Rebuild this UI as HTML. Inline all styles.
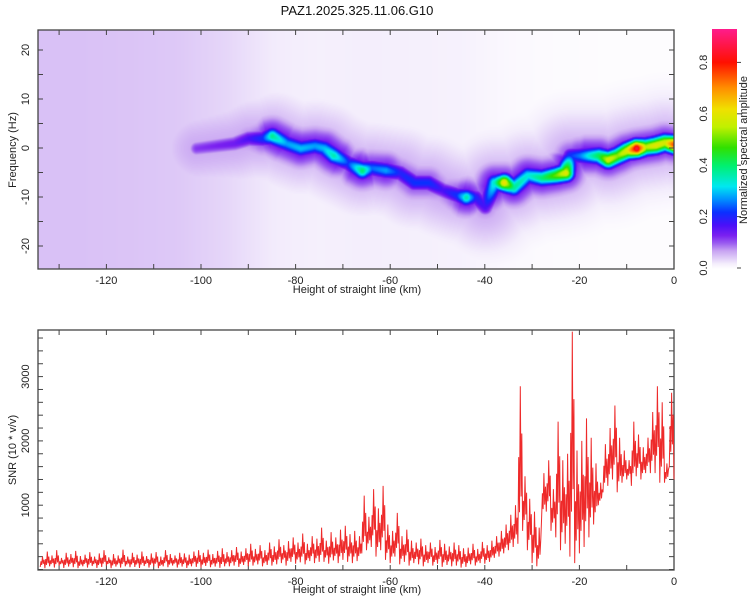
<!DOCTYPE html>
<html><head><meta charset="utf-8"><style>
html,body{margin:0;padding:0;background:#fff;}
#wrap{position:relative;width:750px;height:600px;overflow:hidden;font-family:"Liberation Sans",sans-serif;}
#heat{position:absolute;left:38px;top:30px;}
#ov{position:absolute;left:0;top:0;}
</style></head><body>
<div id="wrap">
<canvas id="heat" width="636" height="239"></canvas>
<svg id="ov" width="750" height="600" xmlns="http://www.w3.org/2000/svg">
<defs><linearGradient id="cbg" x1="0" y1="1" x2="0" y2="0"></linearGradient></defs>
<text x="357" y="15" text-anchor="middle" font-size="13" fill="#111">PAZ1.2025.325.11.06.G10</text>
<g id="topAxes"></g>
<g id="botAxes"></g>
<path id="snrLine" fill="none" stroke="#ee2a2a" stroke-width="1"></path>
<rect x="712" y="29" width="25" height="240" fill="url(#cbg)"></rect>
<g id="cbTicks"></g>
<text transform="translate(747,150) rotate(-90)" text-anchor="middle" font-size="11" fill="#222">Normalized spectral amplitude</text>
<text transform="translate(16,150) rotate(-90)" text-anchor="middle" font-size="11" fill="#222">Frequency (Hz)</text>
<text transform="translate(16,450) rotate(-90)" text-anchor="middle" font-size="11" fill="#222">SNR (10 * v/v)</text>
<text x="357" y="293" text-anchor="middle" font-size="11" fill="#222">Height of straight line (km)</text>
<text x="357" y="593" text-anchor="middle" font-size="11" fill="#222">Height of straight line (km)</text>
</svg>
</div>
<script>
// ---- data ----
const ridgeKm  = [-101,-97,-93,-90,-87,-85,-82,-79,-76,-74,-72,-69,-66,-64,-61,-58,-55,-52,-49,-46,-44,-42,-40,-38,-36,-34,-31,-28,-25,-23,-22,-20,-18,-16,-14,-12,-10,-8,-6,-4,-2,0];
const ridgeHz  = [0,0.5,1,2,2,2.5,1,0,0.5,0,-1.5,-3,-4.5,-4,-4.5,-5,-7,-7,-8.5,-9.5,-10,-10,-12,-7,-7,-8,-5.5,-6,-5.5,-5,-1.5,-1.5,-1.5,-1.5,-2.3,-1.5,-0.5,0,0.3,0.6,1.2,0.8];
const ridgeAmp = [0.12,0.13,0.14,0.17,0.22,0.38,0.28,0.3,0.28,0.3,0.36,0.22,0.4,0.25,0.28,0.2,0.22,0.22,0.17,0.22,0.36,0.2,0.17,0.35,0.62,0.38,0.33,0.4,0.5,0.6,0.22,0.26,0.34,0.42,0.58,0.52,0.6,0.86,0.55,0.6,0.58,0.78];
const bgKm     = [-135,-125,-115,-105,-95,-85,-75,-65,-55,-45,-35,-25,-15,-5,0];
const bgLevel  = [0.05,0.05,0.048,0.045,0.036,0.022,0.018,0.02,0.018,0.016,0.008,0.005,0.004,0.004,0.004];
const snrKmStart = -134;
const snrHigh = [200,280,220,300,180,260,240,290,210,230, 270,200,250,300,190,240,220,310,200,260, 230,280,210,250,270,200,300,240,220,260, 250,230,280,300,260,310,240,290,330,270,
 300,350,280,330,400,320,380,300,420,360, 470,380,440,500,420,560,400,520,480,650, 450,580,500,620,680,550,600,520,1150,820,
 1250,950,1300,700,600,880,520,620,450,420, 480,380,420,350,460,400,360,420,380,330, 340,400,320,430,380,450,520,600,700,850,
 1000,2850,1450,1100,900,650,1500,1700,1250,2300, 1700,1800,3700,1850,2000,2350,2050,1650,1350,1950, 2200,2550,2050,1850,1700,2300,2100,1900,2050,2450, 2850,2600,1650,2750,2200];
const snrLow = [40,20,50,30,60,25,45,35,20,50, 30,55,25,40,60,20,45,30,50,35, 40,25,55,30,45,20,50,35,60,30, 45,25,50,40,30,55,35,45,25,50,
 50,60,40,70,50,60,80,50,70,60, 80,100,60,120,90,110,80,130,100,120, 120,90,140,100,150,120,100,130,250,300,
 350,200,300,150,100,200,80,120,60,100, 80,50,100,60,90,40,70,50,60,30, 40,80,60,100,90,120,180,200,250,300,
 350,400,600,300,100,50,800,900,600,500, 300,400,200,100,250,350,500,700,1000,1200, 1300,1400,1200,1350,1400,1300,1450,1400,1500,1500, 1500,1350,1350,1600,1400];
const xTicks = [-120,-100,-80,-60,-40,-20,0];
const fTicks = [20,10,0,-10,-20];
const snrTicks = [1000,2000,3000];
const cbTicks = [0.0,0.2,0.4,0.6,0.8];

// ---- scales ----
const X0=38,X1=674;
const xs = km => 674 + km*4.73;
const yf = f => 148 - f*4.9;
const ys = v => 569.5 - v*0.0643;
const yc = v => 268 - v*(239/0.93);

const cmapV=[0,0.02,0.04,0.07,0.10,0.13,0.17,0.22,0.27,0.32,0.40,0.47,0.55,0.62,0.70,0.80,0.93];
const cmapC=["#ffffff","#f4eefc","#e2d0f8","#c8a4f2","#9a5cf0","#7a20f0","#4a10f8","#0a30ff","#0090ff","#00e8f0","#00f070","#30e000","#c0f000","#f0e000","#ff9000","#ff1000","#ff1c8c"];
const hex = h=>[parseInt(h.substr(1,2),16),parseInt(h.substr(3,2),16),parseInt(h.substr(5,2),16)];
const cmapRGB=cmapC.map(hex);
function cmap(v){
  if(v<=0) return cmapRGB[0];
  for(let i=1;i<cmapV.length;i++){ if(v<=cmapV[i]){const t=(v-cmapV[i-1])/(cmapV[i]-cmapV[i-1]);const a=cmapRGB[i-1],b=cmapRGB[i];return [a[0]+(b[0]-a[0])*t,a[1]+(b[1]-a[1])*t,a[2]+(b[2]-a[2])*t];}}
  return cmapRGB[cmapRGB.length-1];
}
function bgAt(km){
  for(let i=1;i<bgKm.length;i++){ if(km<=bgKm[i]){const t=(km-bgKm[i-1])/(bgKm[i]-bgKm[i-1]);return bgLevel[i-1]+(bgLevel[i]-bgLevel[i-1])*t;}}
  return bgLevel[bgLevel.length-1];
}

// ---- heatmap ----
(function(){
  const cv=document.getElementById('heat'),ctx=cv.getContext('2d');
  const W=cv.width,H=cv.height,img=ctx.createImageData(W,H);
  const px=ridgeKm.map(xs),py=ridgeHz.map(yf);
  for(let j=0;j<H;j++){
    const Y=30+j;
    for(let i=0;i<W;i++){
      const X=38+i;
      const km=(X-674)/4.73;
      let v=bgAt(km);
      for(let s=0;s<px.length-1;s++){
        const ax=px[s],ay=py[s],bx=px[s+1],by=py[s+1];
        if(X<ax-60||X>bx+60) continue;
        const dx=bx-ax,dy=by-ay,L=dx*dx+dy*dy;
        let t=((X-ax)*dx+(Y-ay)*dy)/L; t=Math.max(0,Math.min(1,t));
        const cx=ax+dx*t,cy=ay+dy*t,d2=(X-cx)*(X-cx)+(Y-cy)*(Y-cy);
        const amp=ridgeAmp[s]+(ridgeAmp[s+1]-ridgeAmp[s])*t;
        const core=amp*Math.exp(-d2/(2*6*6));
        const halo=Math.min(0.15,amp*0.5)*Math.exp(-d2/(2*15*15));
        const outer=0.065*Math.exp(-d2/(2*30*30));
        const w=Math.max(core,halo,outer);
        if(w>v) v=w;
      }
      const c=cmap(v),k=(j*W+i)*4;
      img.data[k]=c[0];img.data[k+1]=c[1];img.data[k+2]=c[2];img.data[k+3]=255;
    }
  }
  ctx.putImageData(img,0,0);
})();

// ---- axes ----
const NS='http://www.w3.org/2000/svg';
function mk(tag,attrs,parent){const e=document.createElementNS(NS,tag);for(const k in attrs)e.setAttribute(k,attrs[k]);parent.appendChild(e);return e;}
function axes(gid,top,bot,yTickStep,yFn,yMin,yMax,yLabels){
  const g=document.getElementById(gid);
  const fr=mk('rect',{x:X0,y:top,width:X1-X0,height:bot-top,fill:'none',stroke:'#444','stroke-width':1.3},g);
  
  
  for(let km=-130;km<=0;km+=10){
    const x=xs(km);
    mk('line',{x1:x,y1:bot,x2:x,y2:bot-5,stroke:'#444'},g);
    mk('line',{x1:x,y1:top,x2:x,y2:top+5,stroke:'#444'},g);
  }
  for(const km of xTicks){
    const t=mk('text',{x:xs(km),y:bot+15,'text-anchor':'middle','font-size':11,fill:'#222'},g);
    t.textContent=km;
    
    
  }
  for(let v=Math.ceil(yMin/yTickStep)*yTickStep;v<=yMax;v+=yTickStep){
    const y=yFn(v);
    mk('line',{x1:X0,y1:y,x2:X0+5,y2:y,stroke:'#444'},g);
    mk('line',{x1:X1,y1:y,x2:X1-5,y2:y,stroke:'#444'},g);
  }
  for(const v of yLabels){
    const t=mk('text',{transform:`translate(29,${yFn(v)}) rotate(-90)`,'text-anchor':'middle','font-size':11,fill:'#222'},g);
    t.textContent=v;
    
    
  }
}
axes('topAxes',30,269,5,yf,-24,24,fTicks);
axes('botAxes',330,570,200,ys,0,3700,snrTicks);

// ---- SNR line ----
(function(){
  let d='';
  const add=(km,v)=>{const x=xs(km);if(x<X0||x>X1)return;d+=(d?'L':'M')+x.toFixed(1)+','+ys(v).toFixed(1);};
  for(let i=0;i<snrHigh.length;i++){
    const km=snrKmStart+i,lo=snrLow[i],hi=snrHigh[i];
    add(km,lo);
    add(km+0.17,lo+(hi-lo)*0.55);
    add(km+0.33,lo+(hi-lo)*0.2);
    add(km+0.5,hi);
    add(km+0.67,lo+(hi-lo)*0.3);
    add(km+0.83,lo+(hi-lo)*0.7);
  }
  document.getElementById('snrLine').setAttribute('d',d);
})();

// ---- colorbar ----
(function(){
  const gr=document.getElementById('cbg');
  cmapV.forEach((v,i)=>{mk('stop',{offset:(v/0.93),'stop-color':cmapC[i]},gr);});
  const g=document.getElementById('cbTicks');
  for(const v of cbTicks){
    const y=yc(v);
    mk('line',{x1:737,y1:y,x2:741,y2:y,stroke:'#444'},g);
    const t=mk('text',{transform:`translate(707,${y}) rotate(-90)`,'text-anchor':'middle','font-size':11,fill:'#222'},g);
    t.textContent=v.toFixed(1);
    
    
  }
})();
</script>
</body></html>
